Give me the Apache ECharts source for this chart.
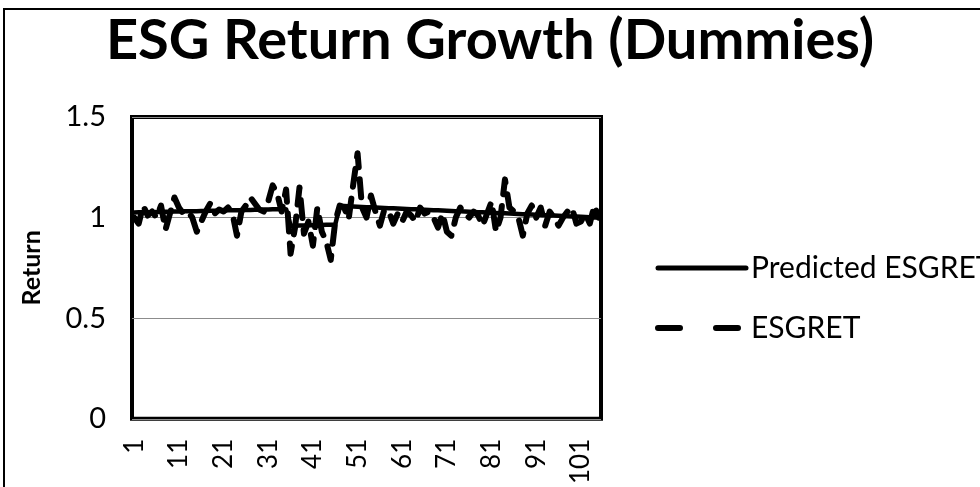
<!DOCTYPE html>
<html><head><meta charset="utf-8">
<script src="https://cdn.jsdelivr.net/npm/echarts@6/dist/echarts.min.js"></script>
<style>html,body{margin:0;padding:0;background:#fff}#c{width:980px;height:487px}</style>
</head><body><div id="c"></div>
<script>
const titleText = 'ESG Return Growth (Dummies)';
const yAxisName = 'Return';
const seriesNames = ['Predicted ESGRET', 'ESGRET'];
const categories = [];
for (let i = 1; i <= 105; i++) categories.push(String(i));

const predicted = [
  1.025,1.026,1.026,1.027,1.027,1.028,1.028,1.029,1.029,1.030,
  1.030,1.031,1.031,1.032,1.032,1.033,1.033,1.034,1.034,1.035,
  1.035,1.036,1.036,1.037,1.037,1.038,1.038,1.039,1.039,1.040,
  1.040,1.041,1.041,1.042,1.042,
  0.960,0.960,0.961,0.961,0.962,0.962,0.963,0.963,0.964,0.964,0.965,
  1.058,1.057,1.056,1.055,1.054,1.053,1.052,1.051,1.050,1.049,
  1.048,1.047,1.046,1.045,1.044,1.043,1.042,1.041,1.040,1.039,
  1.038,1.037,1.036,1.035,1.034,1.033,1.032,1.031,1.030,1.029,
  1.028,1.027,1.026,1.025,1.024,1.023,1.022,1.021,1.020,1.019,
  1.018,1.017,1.016,1.015,1.014,1.013,1.012,1.011,1.010,1.009,
  1.008,1.007,1.006,1.005,1.004,1.003,1.002,1.001,1.000
];

const esgret = [
  1.00,0.97,1.06,1.01,1.03,1.00,1.06,0.94,1.02,1.10,
  1.05,1.02,1.03,1.00,0.93,0.98,1.03,1.07,1.02,1.04,
  1.03,1.05,1.02,0.91,1.03,1.06,1.10,1.07,1.04,1.03,
  1.08,1.16,1.12,1.03,1.14,0.82,0.95,1.15,0.92,0.98,
  0.86,1.05,0.93,0.88,0.79,0.98,1.06,1.05,0.99,1.16,
  1.32,1.05,1.00,1.11,1.03,0.96,1.04,1.03,0.97,1.02,
  0.98,1.03,1.01,0.98,1.05,1.02,1.03,1.00,0.95,1.02,
  0.93,0.91,1.00,1.05,1.02,1.00,1.03,1.01,0.96,1.02,
  1.08,0.93,1.00,1.19,1.05,1.03,1.00,0.91,1.02,1.06,
  1.00,1.05,0.96,1.03,1.00,0.96,1.00,1.03,1.05,0.97,
  0.98,1.02,0.97,1.06,1.00
];

const yMin = 0, yMax = 1.5, yInterval = 0.5;

const chart = echarts.init(document.getElementById('c'), null, {renderer: 'canvas'});
const font = 'Lato';
chart.setOption({
  animation: false,
  backgroundColor: '#fff',
  title: {
    text: titleText, left: 'center', top: 8,
    textStyle: {fontFamily: font, fontWeight: 'bold', fontSize: 56, color: '#000'}
  },
  graphic: [{
    type: 'rect', shape: {x: 4, y: 9, width: 1000, height: 520},
    style: {fill: 'none', stroke: '#000', lineWidth: 2}, silent: true, z: 100
  }],
  legend: {
    orient: 'vertical', left: 650, top: 248, itemWidth: 88, itemHeight: 8, itemGap: 30,
    textStyle: {fontFamily: font, fontSize: 30, color: '#000'},
    data: [
      {name: seriesNames[0], icon: 'inherit', itemStyle: {opacity: 0},
       lineStyle: {color: '#000', width: 5, type: 'solid', cap: 'round'}},
      {name: seriesNames[1], icon: 'inherit', itemStyle: {opacity: 0},
       lineStyle: {color: '#000', width: 6, type: [22, 36], cap: 'round'}}
    ]
  },
  grid: {left: 132, right: 379, top: 117, bottom: 66, show: true, borderColor: '#000', borderWidth: 4, containLabel: false},
  xAxis: {
    type: 'category', data: categories, boundaryGap: true,
    axisLine: {show: false}, axisTick: {show: false},
    axisLabel: {interval: 9, rotate: 90, margin: 20, fontFamily: font, fontSize: 26, color: '#000'},
    splitLine: {show: false}
  },
  yAxis: {
    type: 'value', min: yMin, max: yMax, interval: yInterval,
    name: yAxisName, nameLocation: 'middle', nameGap: 88, nameRotate: 90,
    nameTextStyle: {fontFamily: font, fontWeight: 'bold', fontSize: 25, color: '#000'},
    axisLine: {show: false}, axisTick: {show: false},
    axisLabel: {margin: 26, fontFamily: font, fontSize: 29, color: '#000'},
    splitLine: {show: true, lineStyle: {color: '#8c8c8c', width: 1}}
  },
  series: [
    {name: seriesNames[0], type: 'line', data: predicted, symbol: 'none', showSymbol: false,
     lineStyle: {color: '#000', width: 4.5, cap: 'round', join: 'round'}, itemStyle: {color: '#000'}, z: 3},
    {name: seriesNames[1], type: 'line', data: esgret, symbol: 'none', showSymbol: false,
     lineStyle: {color: '#000', width: 6, type: [18, 12], cap: 'round', join: 'round'}, itemStyle: {color: '#000'}, z: 2}
  ]
});
</script></body></html>
